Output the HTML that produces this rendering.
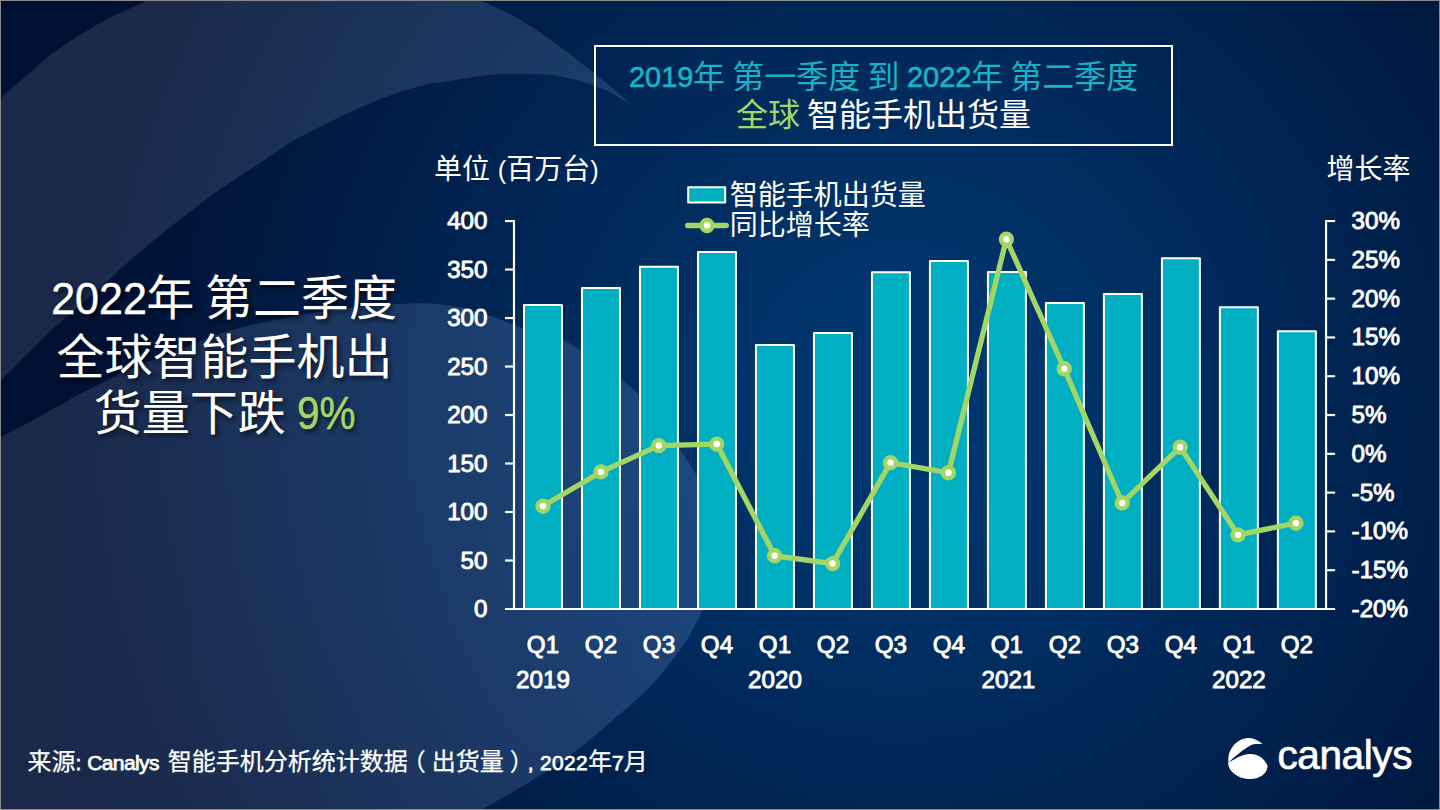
<!DOCTYPE html>
<html lang="zh-CN">
<head>
<meta charset="utf-8">
<title>2022年 第二季度 全球智能手机出货量</title>
<style>
html,body{margin:0;padding:0;}
body{width:1440px;height:810px;overflow:hidden;background:#001238;}
#slide{position:relative;width:1440px;height:810px;overflow:hidden;
  background:radial-gradient(circle 825px at 900px 400px,#00366e 0%,#00366e 12%,#001033 100%);
  font-family:"Liberation Sans","Noto Sans CJK SC",sans-serif;color:#fff;}
#slide:after{content:"";position:absolute;left:0;top:0;right:0;bottom:0;border:1px solid #8a8a8a;box-sizing:border-box;pointer-events:none;}
svg{position:absolute;left:0;top:0;}
.t{position:absolute;white-space:nowrap;line-height:1;}
.l{font-family:"Liberation Sans",sans-serif;}
#titlebox{position:absolute;left:593.5px;top:45px;width:579px;height:100.5px;box-sizing:border-box;border:2px solid #fff;}
#t1{left:594.5px;width:578px;top:61px;text-align:center;font-size:32px;color:#19b2c6;word-spacing:-1.7px;}
#t1 .l{font-size:30.3px;-webkit-text-stroke:0.6px #19b2c6;display:inline-block;transform-origin:0 50%;transform:translateY(-0.6px) scaleX(.955);margin-right:-3px;}
#t2{left:594.5px;width:578px;top:98.5px;text-align:center;font-size:32px;word-spacing:-1.7px;}
#t2 .g{color:#a3d665;}
.hd{position:absolute;left:24.5px;width:400px;text-align:center;font-size:48px;line-height:57.6px;white-space:nowrap;word-spacing:-2.5px;
  text-shadow:2.5px 3px 5px rgba(0,0,0,.6);}
#h1{top:269.5px;}
#h2{top:328.7px;}
#h3{top:385.3px;}
.hd .l{font-size:45px;-webkit-text-stroke:0.5px #fff;display:inline-block;transform-origin:0 50%;transform:translate(-0.8px,-1.2px) scaleX(.955);margin-right:-5.8px;}
.hd .l.g{font-size:45.8px;-webkit-text-stroke:0.5px #a3d665;transform:translateY(-1px) scaleX(.885);margin-right:-7.6px;}
.hd .g{color:#a3d665;}
#unit{left:434px;top:155.8px;font-size:28px;}
#unit .l{font-size:25.5px;}
#rate{left:1326.5px;top:155.5px;font-size:28px;}
#lg1{left:729.7px;top:181.5px;font-size:28px;}
#lg2{left:729.7px;top:212px;font-size:28px;}
#src{left:27.5px;top:749.5px;font-size:24px;-webkit-text-stroke:0.25px #fff;}
#src .l{font-size:21px;font-weight:normal;-webkit-text-stroke:0.75px #fff;}
#src .c{letter-spacing:-0.6px;}
#src .s{letter-spacing:3px;}
#src .d{letter-spacing:0.3px;}
#src .pl{position:relative;left:-6px;}
#src .pr{position:relative;left:6px;}
#logo{left:1277.5px;top:734.5px;font-size:40.5px;letter-spacing:-0.4px;-webkit-text-stroke:0.7px #fff;}
svg text{font-family:"Liberation Sans",sans-serif;font-weight:normal;font-size:24.2px;fill:#fff;stroke:#fff;stroke-width:0.9px;stroke-linejoin:round;}
</style>
</head>
<body>
<div id="slide">
<svg width="1440" height="810" viewBox="0 0 1440 810">
  <defs>
    <linearGradient id="tb" gradientUnits="userSpaceOnUse" x1="0" y1="0" x2="720" y2="0">
      <stop offset="0" stop-color="#2870ff" stop-opacity="0.015"/>
      <stop offset="1" stop-color="#2870ff" stop-opacity="0.085"/>
    </linearGradient>
    <linearGradient id="tc" gradientUnits="userSpaceOnUse" x1="0" y1="0" x2="640" y2="0">
      <stop offset="0" stop-color="#2870ff" stop-opacity="0.01"/>
      <stop offset="1" stop-color="#2870ff" stop-opacity="0.045"/>
    </linearGradient>
  </defs>
  <path d="M-30.0,132.0 C-25.0,126.5 -9.5,108.5 0.0,99.0 C9.5,89.5 18.2,82.7 27.0,75.0 C35.8,67.3 44.2,59.7 53.0,53.0 C61.8,46.3 71.0,40.7 80.0,35.0 C89.0,29.3 98.2,23.7 107.0,19.0 C115.8,14.3 126.5,10.0 133.0,7.0 C139.5,4.0 139.5,3.7 146.0,1.0 C152.5,-1.7 167.7,-7.3 172.0,-9.0 L462,-10 C465.3,-8.2 474.2,-3.0 481.7,0.8 C489.1,4.5 499.8,9.0 506.7,12.5 C513.6,16.0 517.8,18.4 523.3,21.7 C528.8,25.0 534.4,28.8 540.0,32.5 C545.6,36.2 551.2,40.2 556.7,44.2 C562.2,48.2 567.8,52.4 573.3,56.7 C578.8,61.0 584.4,65.6 590.0,70.0 C595.6,74.4 601.2,78.7 606.7,83.3 C612.2,87.9 619.0,93.8 623.3,97.5 C627.6,101.2 631.0,104.0 632.5,105.3 C631.0,104.4 627.6,102.4 623.3,100.0 C619.0,97.6 612.2,93.4 606.7,90.8 C601.2,88.2 595.6,86.1 590.0,84.2 C584.4,82.3 578.8,80.6 573.3,79.2 C567.8,77.8 562.2,76.6 556.7,75.8 C551.2,75.0 545.6,74.5 540.0,74.2 C534.4,73.9 528.8,73.8 523.3,73.7 C517.8,73.6 512.2,73.6 506.7,73.8 C501.1,74.0 495.6,74.5 490.0,75.0 C484.4,75.5 478.9,76.2 473.3,77.0 C467.8,77.8 462.2,78.8 456.7,79.7 C451.1,80.6 444.9,81.7 440.0,82.5 C435.1,83.3 434.8,82.5 427.0,84.5 C419.2,86.5 404.2,90.4 393.0,94.2 C381.8,98.0 371.0,102.7 360.0,107.5 C349.0,112.3 338.2,117.7 327.0,123.3 C315.8,128.9 303.2,135.1 293.0,141.0 C282.8,146.9 277.8,151.2 266.0,159.0 C254.2,166.8 236.7,177.7 222.0,188.0 C207.3,198.3 192.8,209.3 178.0,221.0 C163.2,232.7 146.0,246.8 133.0,258.0 C120.0,269.2 111.0,278.2 100.0,288.0 C89.0,297.8 75.2,309.4 67.0,316.5 C58.8,323.6 56.7,325.2 51.0,330.5 C45.3,335.8 41.5,339.6 33.0,348.0 C24.5,356.4 10.5,370.5 0.0,381.0 C-10.5,391.5 -25.0,406.0 -30.0,411.0 Z" fill="#fff" fill-opacity="0.103"/>
  <path d="M-30.0,132.0 C-25.0,126.5 -9.5,108.5 0.0,99.0 C9.5,89.5 18.2,82.7 27.0,75.0 C35.8,67.3 44.2,59.7 53.0,53.0 C61.8,46.3 71.0,40.7 80.0,35.0 C89.0,29.3 98.2,23.7 107.0,19.0 C115.8,14.3 126.5,10.0 133.0,7.0 C139.5,4.0 139.5,3.7 146.0,1.0 C152.5,-1.7 167.7,-7.3 172.0,-9.0 L462,-10 C465.3,-8.2 474.2,-3.0 481.7,0.8 C489.1,4.5 499.8,9.0 506.7,12.5 C513.6,16.0 517.8,18.4 523.3,21.7 C528.8,25.0 534.4,28.8 540.0,32.5 C545.6,36.2 551.2,40.2 556.7,44.2 C562.2,48.2 567.8,52.4 573.3,56.7 C578.8,61.0 584.4,65.6 590.0,70.0 C595.6,74.4 601.2,78.7 606.7,83.3 C612.2,87.9 619.0,93.8 623.3,97.5 C627.6,101.2 631.0,104.0 632.5,105.3 C631.0,104.4 627.6,102.4 623.3,100.0 C619.0,97.6 612.2,93.4 606.7,90.8 C601.2,88.2 595.6,86.1 590.0,84.2 C584.4,82.3 578.8,80.6 573.3,79.2 C567.8,77.8 562.2,76.6 556.7,75.8 C551.2,75.0 545.6,74.5 540.0,74.2 C534.4,73.9 528.8,73.8 523.3,73.7 C517.8,73.6 512.2,73.6 506.7,73.8 C501.1,74.0 495.6,74.5 490.0,75.0 C484.4,75.5 478.9,76.2 473.3,77.0 C467.8,77.8 462.2,78.8 456.7,79.7 C451.1,80.6 444.9,81.7 440.0,82.5 C435.1,83.3 434.8,82.5 427.0,84.5 C419.2,86.5 404.2,90.4 393.0,94.2 C381.8,98.0 371.0,102.7 360.0,107.5 C349.0,112.3 338.2,117.7 327.0,123.3 C315.8,128.9 303.2,135.1 293.0,141.0 C282.8,146.9 277.8,151.2 266.0,159.0 C254.2,166.8 236.7,177.7 222.0,188.0 C207.3,198.3 192.8,209.3 178.0,221.0 C163.2,232.7 146.0,246.8 133.0,258.0 C120.0,269.2 111.0,278.2 100.0,288.0 C89.0,297.8 75.2,309.4 67.0,316.5 C58.8,323.6 56.7,325.2 51.0,330.5 C45.3,335.8 41.5,339.6 33.0,348.0 C24.5,356.4 10.5,370.5 0.0,381.0 C-10.5,391.5 -25.0,406.0 -30.0,411.0 Z" fill="url(#tc)"/>
  <path d="M-30.0,453.0 C-25.0,450.4 -9.9,442.6 0.0,437.4 C9.9,432.2 19.7,427.2 29.6,421.9 C39.5,416.6 49.4,411.0 59.3,405.6 C69.2,400.2 79.0,394.5 88.9,389.3 C98.8,384.1 108.7,378.9 118.5,374.4 C128.3,369.8 138.1,366.0 148.0,362.0 C157.9,358.0 168.0,354.5 178.0,350.5 C188.0,346.5 198.3,341.6 208.0,338.0 C217.7,334.4 226.8,331.6 236.0,329.0 C245.2,326.4 253.8,324.5 263.0,322.5 C272.2,320.5 281.7,318.8 291.0,317.0 C300.3,315.2 309.7,313.4 319.0,312.0 C328.3,310.6 336.8,309.7 347.0,308.5 C357.2,307.3 370.8,305.8 380.0,305.0 C389.2,304.2 394.7,304.1 402.0,303.8 C409.3,303.5 415.0,302.9 424.0,303.3 C433.0,303.8 445.2,304.5 456.0,306.5 C466.8,308.5 479.5,312.5 489.0,315.5 C498.5,318.5 504.5,321.3 513.0,324.5 C521.5,327.7 531.7,331.9 540.0,334.5 C548.3,337.1 556.2,337.3 563.0,340.0 C569.8,342.7 574.7,346.5 581.0,350.5 C587.3,354.5 594.3,359.2 601.0,364.0 C607.7,368.8 614.7,373.8 621.0,379.0 C627.3,384.2 632.5,388.2 639.0,395.0 C645.5,401.8 653.2,410.9 660.0,420.0 C666.8,429.1 674.0,440.5 680.0,449.5 C686.0,458.5 691.2,465.8 696.0,474.0 C700.8,482.2 705.3,490.7 709.0,499.0 C712.7,507.3 715.8,515.8 718.0,524.0 C720.2,532.2 721.8,539.7 722.0,548.0 C722.2,556.3 720.8,566.0 719.0,574.0 C717.2,582.0 713.7,590.0 711.0,596.0 C708.3,602.0 706.2,604.2 703.0,610.0 C699.8,615.8 695.8,624.3 692.0,631.0 C688.2,637.7 687.0,640.7 680.0,650.0 C673.0,659.3 661.2,675.0 650.0,686.7 C638.8,698.4 625.8,709.0 613.0,720.0 C600.2,731.0 586.3,743.0 573.0,753.0 C559.7,763.0 547.3,771.1 533.0,780.0 C518.7,788.9 497.8,800.3 487.0,806.5 C476.2,812.7 471.2,815.2 468.0,817.0 L-30,817 Z" fill="#fff" fill-opacity="0.103"/>
  <path d="M-30.0,453.0 C-25.0,450.4 -9.9,442.6 0.0,437.4 C9.9,432.2 19.7,427.2 29.6,421.9 C39.5,416.6 49.4,411.0 59.3,405.6 C69.2,400.2 79.0,394.5 88.9,389.3 C98.8,384.1 108.7,378.9 118.5,374.4 C128.3,369.8 138.1,366.0 148.0,362.0 C157.9,358.0 168.0,354.5 178.0,350.5 C188.0,346.5 198.3,341.6 208.0,338.0 C217.7,334.4 226.8,331.6 236.0,329.0 C245.2,326.4 253.8,324.5 263.0,322.5 C272.2,320.5 281.7,318.8 291.0,317.0 C300.3,315.2 309.7,313.4 319.0,312.0 C328.3,310.6 336.8,309.7 347.0,308.5 C357.2,307.3 370.8,305.8 380.0,305.0 C389.2,304.2 394.7,304.1 402.0,303.8 C409.3,303.5 415.0,302.9 424.0,303.3 C433.0,303.8 445.2,304.5 456.0,306.5 C466.8,308.5 479.5,312.5 489.0,315.5 C498.5,318.5 504.5,321.3 513.0,324.5 C521.5,327.7 531.7,331.9 540.0,334.5 C548.3,337.1 556.2,337.3 563.0,340.0 C569.8,342.7 574.7,346.5 581.0,350.5 C587.3,354.5 594.3,359.2 601.0,364.0 C607.7,368.8 614.7,373.8 621.0,379.0 C627.3,384.2 632.5,388.2 639.0,395.0 C645.5,401.8 653.2,410.9 660.0,420.0 C666.8,429.1 674.0,440.5 680.0,449.5 C686.0,458.5 691.2,465.8 696.0,474.0 C700.8,482.2 705.3,490.7 709.0,499.0 C712.7,507.3 715.8,515.8 718.0,524.0 C720.2,532.2 721.8,539.7 722.0,548.0 C722.2,556.3 720.8,566.0 719.0,574.0 C717.2,582.0 713.7,590.0 711.0,596.0 C708.3,602.0 706.2,604.2 703.0,610.0 C699.8,615.8 695.8,624.3 692.0,631.0 C688.2,637.7 687.0,640.7 680.0,650.0 C673.0,659.3 661.2,675.0 650.0,686.7 C638.8,698.4 625.8,709.0 613.0,720.0 C600.2,731.0 586.3,743.0 573.0,753.0 C559.7,763.0 547.3,771.1 533.0,780.0 C518.7,788.9 497.8,800.3 487.0,806.5 C476.2,812.7 471.2,815.2 468.0,817.0 L-30,817 Z" fill="url(#tb)"/>
  <g stroke="#fff" stroke-width="2.15" fill="none"><path d="M514.00,219.98 V610.07"/><path d="M1326.05,219.98 V610.07"/><path d="M505,609.00 H1335.1"/><path d="M505,221.05 H514.00"/><path d="M505,269.54 H514.00"/><path d="M505,318.04 H514.00"/><path d="M505,366.53 H514.00"/><path d="M505,415.02 H514.00"/><path d="M505,463.52 H514.00"/><path d="M505,512.01 H514.00"/><path d="M505,560.51 H514.00"/><path d="M1326.05,221.05 H1335.1"/><path d="M1326.05,259.85 H1335.1"/><path d="M1326.05,298.64 H1335.1"/><path d="M1326.05,337.44 H1335.1"/><path d="M1326.05,376.23 H1335.1"/><path d="M1326.05,415.03 H1335.1"/><path d="M1326.05,453.82 H1335.1"/><path d="M1326.05,492.62 H1335.1"/><path d="M1326.05,531.41 H1335.1"/><path d="M1326.05,570.21 H1335.1"/></g>
  <g fill="#00b0c2" stroke="#fff" stroke-width="2" stroke-linejoin="round"><rect x="524.00" y="305.05" width="38.00" height="303.95"/><rect x="581.99" y="288.00" width="38.00" height="321.00"/><rect x="639.98" y="266.80" width="38.00" height="342.20"/><rect x="697.97" y="252.00" width="38.00" height="357.00"/><rect x="755.96" y="345.00" width="38.00" height="264.00"/><rect x="813.95" y="333.00" width="38.00" height="276.00"/><rect x="871.94" y="272.30" width="38.00" height="336.70"/><rect x="929.93" y="261.00" width="38.00" height="348.00"/><rect x="987.92" y="272.00" width="38.00" height="337.00"/><rect x="1045.91" y="303.00" width="38.00" height="306.00"/><rect x="1103.90" y="294.00" width="38.00" height="315.00"/><rect x="1161.89" y="258.30" width="38.00" height="350.70"/><rect x="1219.88" y="307.30" width="38.00" height="301.70"/><rect x="1277.87" y="331.30" width="38.00" height="277.70"/></g>
  <polyline points="543.00,506.05 600.92,471.95 658.84,445.55 716.76,444.05 774.68,555.75 832.60,563.55 890.52,462.65 948.44,472.75 1006.36,239.25 1064.28,368.75 1122.20,502.95 1180.12,447.15 1238.04,534.85 1295.96,523.15" fill="none" stroke="#a3d665" stroke-width="5.3" stroke-linejoin="round" stroke-linecap="round"/>
  <g fill="#fff" stroke="#a3d665" stroke-width="4.45"><circle cx="543.00" cy="506.05" r="5.42" /><circle cx="600.92" cy="471.95" r="5.42" /><circle cx="658.84" cy="445.55" r="5.42" /><circle cx="716.76" cy="444.05" r="5.42" /><circle cx="774.68" cy="555.75" r="5.42" /><circle cx="832.60" cy="563.55" r="5.42" /><circle cx="890.52" cy="462.65" r="5.42" /><circle cx="948.44" cy="472.75" r="5.42" /><circle cx="1006.36" cy="239.25" r="5.42" /><circle cx="1064.28" cy="368.75" r="5.42" /><circle cx="1122.20" cy="502.95" r="5.42" /><circle cx="1180.12" cy="447.15" r="5.42" /><circle cx="1238.04" cy="534.85" r="5.42" /><circle cx="1295.96" cy="523.15" r="5.42" /></g>
  <!-- legend -->
  <rect x="688.2" y="187.2" width="37" height="15.4" fill="#00b0c2" stroke="#fff" stroke-width="2" stroke-linejoin="round"/>
  <path d="M687.7,225.5 H726.3" stroke="#a3d665" stroke-width="5.3" stroke-linecap="round"/>
  <circle cx="707" cy="225.5" r="5.42" fill="#fff" stroke="#a3d665" stroke-width="4.45"/>
  <g><text x="487.5" y="229.4" text-anchor="end">400</text><text x="487.5" y="277.8" text-anchor="end">350</text><text x="487.5" y="326.3" text-anchor="end">300</text><text x="487.5" y="374.8" text-anchor="end">250</text><text x="487.5" y="423.3" text-anchor="end">200</text><text x="487.5" y="471.8" text-anchor="end">150</text><text x="487.5" y="520.3" text-anchor="end">100</text><text x="487.5" y="568.8" text-anchor="end">50</text><text x="487.5" y="617.3" text-anchor="end">0</text></g>
  <g><text x="1351.6" y="229.1">30%</text><text x="1351.6" y="267.8">25%</text><text x="1351.6" y="306.6">20%</text><text x="1351.6" y="345.4">15%</text><text x="1351.6" y="384.2">10%</text><text x="1351.6" y="423.0">5%</text><text x="1351.6" y="461.8">0%</text><text x="1351.6" y="500.6">-5%</text><text x="1351.6" y="539.4">-10%</text><text x="1351.6" y="578.2">-15%</text><text x="1351.6" y="617.0">-20%</text></g>
  <g><text x="543.0" y="653.4" text-anchor="middle">Q1</text><text x="601.0" y="653.4" text-anchor="middle">Q2</text><text x="659.0" y="653.4" text-anchor="middle">Q3</text><text x="717.0" y="653.4" text-anchor="middle">Q4</text><text x="775.0" y="653.4" text-anchor="middle">Q1</text><text x="833.0" y="653.4" text-anchor="middle">Q2</text><text x="890.9" y="653.4" text-anchor="middle">Q3</text><text x="948.9" y="653.4" text-anchor="middle">Q4</text><text x="1006.9" y="653.4" text-anchor="middle">Q1</text><text x="1064.9" y="653.4" text-anchor="middle">Q2</text><text x="1122.9" y="653.4" text-anchor="middle">Q3</text><text x="1180.9" y="653.4" text-anchor="middle">Q4</text><text x="1238.9" y="653.4" text-anchor="middle">Q1</text><text x="1296.9" y="653.4" text-anchor="middle">Q2</text><text x="543.0" y="688.2" text-anchor="middle">2019</text><text x="775.0" y="688.2" text-anchor="middle">2020</text><text x="1008.4" y="688.2" text-anchor="middle">2021</text><text x="1238.9" y="688.2" text-anchor="middle">2022</text></g>
  <!-- logo mark -->
  <g fill="#fff">
    <path d="M1228.52,762.59 C1229.59,761.60 1232.53,760.06 1234.81,758.89 C1237.10,757.72 1239.75,756.36 1242.22,755.56 C1244.69,754.75 1247.16,754.14 1249.63,754.07 C1252.10,754.01 1254.81,754.38 1257.04,755.19 C1259.26,755.99 1261.36,757.41 1262.96,758.89 C1264.57,760.37 1265.93,762.72 1266.67,764.07 C1267.41,765.43 1267.53,765.80 1267.41,767.04 C1267.28,768.27 1266.91,770.00 1265.93,771.48 C1264.94,772.96 1263.33,774.75 1261.48,775.93 C1259.63,777.10 1257.04,778.00 1254.81,778.52 C1252.59,779.04 1250.49,779.22 1248.15,779.04 C1245.80,778.85 1243.09,778.30 1240.74,777.41 C1238.40,776.52 1235.86,775.06 1234.07,773.70 C1232.28,772.35 1230.95,770.74 1230.00,769.26 C1229.05,767.78 1228.62,765.93 1228.37,764.81 C1228.12,763.70 1227.44,763.58 1228.52,762.59 Z"/>
    <path d="M1228.5,762.6 C1228.5,762.0 1228.1,760.6 1228.3,758.9 C1228.5,757.2 1228.5,754.7 1229.6,752.2 C1230.7,749.8 1232.7,746.2 1234.8,744.1 C1236.9,741.9 1239.8,740.3 1242.2,739.3 C1244.7,738.2 1247.2,737.8 1249.6,738.0 C1252.1,738.2 1254.8,739.2 1257.0,740.2 C1259.2,741.2 1261.9,743.4 1262.8,744.1 C1261.6,744.1 1257.8,743.8 1255.6,744.1 C1253.4,744.4 1251.9,744.8 1249.6,745.9 C1247.4,747.0 1244.7,749.0 1242.2,750.7 C1239.8,752.5 1237.1,754.7 1234.8,756.7 C1232.5,758.6 1229.6,761.6 1228.5,762.6 Z"/>
  </g>
</svg>
<div id="titlebox"></div>
<div class="t" id="t1"><span class="l">2019</span>年 第一季度 到 <span class="l">2022</span>年 第二季度</div>
<div class="t" id="t2"><span class="g">全球</span> 智能手机出货量</div>
<div class="hd" id="h1"><span class="l">2022</span>年 第二季度</div>
<div class="hd" id="h2">全球智能手机出</div>
<div class="hd" id="h3">货量下跌 <span class="l g">9%</span></div>
<div class="t" id="unit">单位 <span class="l">(</span>百万台<span class="l">)</span></div>
<div class="t" id="rate">增长率</div>
<div class="t" id="lg1">智能手机出货量</div>
<div class="t" id="lg2">同比增长率</div>
<div class="t" id="src">来源<span class="l">: </span><span class="l c">Canalys</span><span class="l s"> </span>智能手机分析统计数据<span class="pl">（</span>出货量<span class="pr">）</span><span class="l d">, 2022</span>年<span class="l d">7</span>月</div>
<div class="t l" id="logo">canalys</div>
</div>
</body>
</html>
